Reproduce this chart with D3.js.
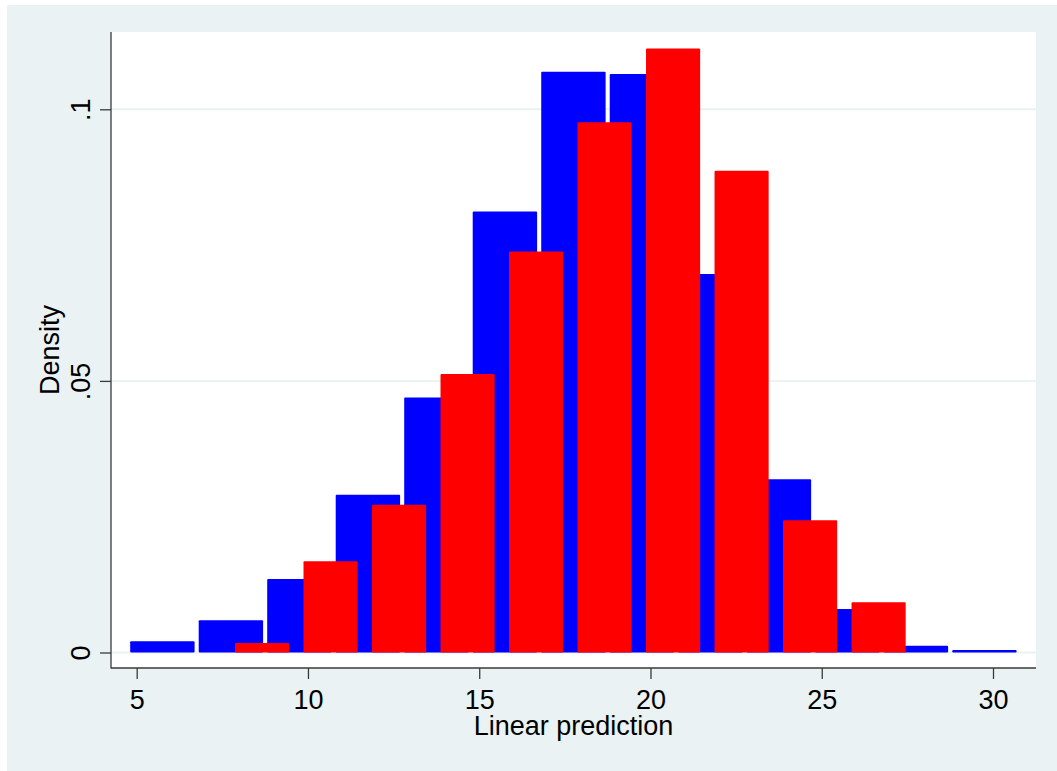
<!DOCTYPE html>
<html>
<head>
<meta charset="utf-8">
<script src="https://cdn.jsdelivr.net/npm/d3@7"></script>
<style>
  html, body { margin: 0; padding: 0; background: #ffffff; }
  svg { display: block; }
  text { font-family: "Liberation Sans", Arial, Helvetica, sans-serif; fill: #000; }
</style>
</head>
<body>
<svg id="chart" width="1057" height="771"></svg>
<script>
// ---- data ----
const blueMid  = [5.75, 7.75, 9.75, 11.75, 13.75, 15.75, 17.75, 19.75, 21.75, 23.75, 25.75, 27.75, 29.75];
const blueVals = [0.00206, 0.00593, 0.01353, 0.02904, 0.04696, 0.0812, 0.1069, 0.1065, 0.0697, 0.0319, 0.0080, 0.00125, 0.00046];
const redMid   = [8.66, 10.66, 12.66, 14.66, 16.66, 18.66, 20.66, 22.66, 24.66, 26.66];
const redVals  = [0.00175, 0.01678, 0.0272, 0.05125, 0.0738, 0.0976, 0.1112, 0.0887, 0.02433, 0.00924];
const xTicks = [5, 10, 15, 20, 25, 30];
const yTicks = [0, 0.05, 0.1];
const yTickLabels = ["0", ".05", ".1"];
const xTitle = "Linear prediction";
const yTitle = "Density";

// ---- layout ----
const W = 1057, H = 771;
const plot = { left: 111, right: 1036, top: 32, bottom: 668 };
const blueW = 1.88, redW = 1.58;   // drawn bar widths in data units
const fontSize = 27;

const svg = d3.select("#chart");

// graph region
svg.append("rect").attr("x", 7).attr("y", 5).attr("width", W - 7).attr("height", H - 5)
  .attr("fill", "#EAF2F3");
// plot region
svg.append("rect").attr("x", plot.left).attr("y", plot.top)
  .attr("width", plot.right - plot.left).attr("height", plot.bottom - plot.top)
  .attr("fill", "#ffffff");

const x = d3.scaleLinear().domain([5, 30]).range([136.7, 993]);
const y = d3.scaleLinear().domain([0, 0.1]).range([652.5, 109.3]);

// gridlines
svg.append("g").selectAll("line").data(yTicks).join("line")
  .attr("x1", plot.left).attr("x2", plot.right)
  .attr("y1", d => y(d)).attr("y2", d => y(d))
  .attr("stroke", "#EAF2F3").attr("stroke-width", 2);

// bars
function bars(mids, vals, w, color) {
  svg.append("g").selectAll("rect").data(mids.map((m, i) => ({ m, v: vals[i] }))).join("rect")
    .attr("x", d => x(d.m - w / 2))
    .attr("width", d => x(d.m + w / 2) - x(d.m - w / 2))
    .attr("y", d => y(d.v))
    .attr("height", d => y(0) - y(d.v))
    .attr("rx", 1)
    .attr("fill", color);
}
bars(blueMid, blueVals, blueW, "#0000FF");
bars(redMid, redVals, redW, "#FF0000");

// axes
const axisColor = "#3a3a3a";
const yAxis = svg.append("g").attr("transform", `translate(${plot.left},0)`)
  .call(d3.axisLeft(y).tickValues(yTicks).tickFormat((d, i) => yTickLabels[i]).tickSize(11).tickSizeOuter(0));
yAxis.select(".domain").remove();
yAxis.selectAll(".tick line").attr("stroke", axisColor).attr("stroke-width", 1.3);
yAxis.selectAll(".tick text")
  .attr("x", null).attr("y", null).attr("dy", null)
  .attr("transform", "translate(-21,0) rotate(-90)")
  .attr("text-anchor", "middle")
  .style("font-size", fontSize + "px")
  .style("font-family", '"Liberation Sans", Arial, sans-serif')
  .attr("fill", "#000");

const xAxis = svg.append("g").attr("transform", `translate(0,${plot.bottom})`)
  .call(d3.axisBottom(x).tickValues(xTicks).tickFormat(d3.format("d")).tickSize(11).tickSizeOuter(0));
xAxis.select(".domain").remove();
xAxis.selectAll(".tick line").attr("stroke", axisColor).attr("stroke-width", 1.3);
xAxis.selectAll(".tick text")
  .attr("y", 41).attr("dy", null)
  .style("font-size", fontSize + "px")
  .style("font-family", '"Liberation Sans", Arial, sans-serif')
  .attr("fill", "#000");

// axis lines
svg.append("line").attr("x1", plot.left).attr("x2", plot.left)
  .attr("y1", plot.top).attr("y2", plot.bottom + 0.6)
  .attr("stroke", axisColor).attr("stroke-width", 1.3);
svg.append("line").attr("x1", plot.left).attr("x2", plot.right)
  .attr("y1", plot.bottom).attr("y2", plot.bottom)
  .attr("stroke", axisColor).attr("stroke-width", 1.3);

// titles
svg.append("text").attr("x", (plot.left + plot.right) / 2).attr("y", 735)
  .attr("text-anchor", "middle").style("font-size", fontSize + "px").text(xTitle);
svg.append("text")
  .attr("transform", `translate(58.5,${(plot.top + plot.bottom) / 2}) rotate(-90)`)
  .attr("text-anchor", "middle").style("font-size", fontSize + "px").text(yTitle);
</script>
</body>
</html>
